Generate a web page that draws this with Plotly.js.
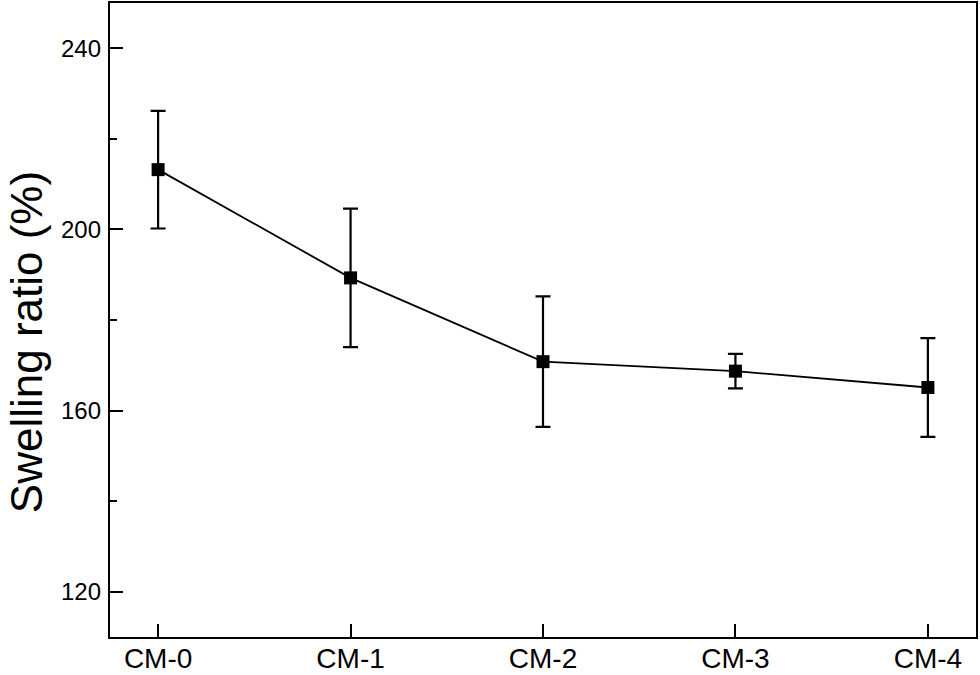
<!DOCTYPE html>
<html>
<head>
<meta charset="utf-8">
<script src="https://cdn.plot.ly/plotly-3.0.1.min.js"></script>
<style>html,body{margin:0;padding:0;background:#fff;}#chart{width:980px;height:675px;}</style>
</head>
<body>
<div id="chart"></div>
<script>
const categories = ["CM-0", "CM-1", "CM-2", "CM-3", "CM-4"];
const swellingRatio = [213.2, 189.3, 170.8, 168.7, 165.1];
const errorValues = [13.0, 15.3, 14.4, 3.8, 10.9];
const yTickValues = [120, 160, 200, 240];

const font = "Liberation Sans, Arial, sans-serif";
const xIdx = categories.map((c, i) => i);

const trace = {
  x: xIdx,
  y: swellingRatio,
  type: "scatter",
  mode: "lines+markers",
  line: {color: "#000", width: 1.8},
  marker: {symbol: "square", size: 13, color: "#000"},
  error_y: {type: "data", array: errorValues, visible: true, color: "#000", thickness: 2.2, width: 7.5},
  showlegend: false,
  hoverinfo: "none"
};

const layout = {
  width: 980, height: 675,
  margin: {l: 110, r: 4, t: 3, b: 38},
  paper_bgcolor: "#fff", plot_bgcolor: "#fff",
  font: {family: font, color: "#000"},
  xaxis: {
    range: [-0.25, 4.25],
    tickvals: xIdx, ticktext: categories,
    ticks: "inside", ticklen: 13, tickwidth: 2, tickcolor: "#000",
    ticklabelstandoff: -5,
    showline: true, linecolor: "#000", linewidth: 2.2, mirror: true,
    showgrid: false, zeroline: false,
    tickfont: {family: font, size: 28, color: "#000"}
  },
  yaxis: {
    range: [110, 250],
    tickvals: yTickValues,
    ticks: "inside", ticklen: 13, tickwidth: 2, tickcolor: "#000",
    ticklabelstandoff: 2,
    minor: {tickvals: [140, 180, 220], ticks: "inside", ticklen: 7, tickwidth: 2, tickcolor: "#000", showgrid: false},
    showline: true, linecolor: "#000", linewidth: 2.2, mirror: true,
    showgrid: false, zeroline: false,
    tickfont: {family: font, size: 24, color: "#000"}
  },
  annotations: [{
    text: "Swelling ratio (%)",
    textangle: -90,
    xref: "paper", yref: "paper",
    x: -0.097, y: 0.465,
    xanchor: "center", yanchor: "middle",
    showarrow: false,
    font: {family: font, size: 44, color: "#000"}
  }]
};

Plotly.newPlot("chart", [trace], layout, {displayModeBar: false, staticPlot: true});
</script>
</body>
</html>
